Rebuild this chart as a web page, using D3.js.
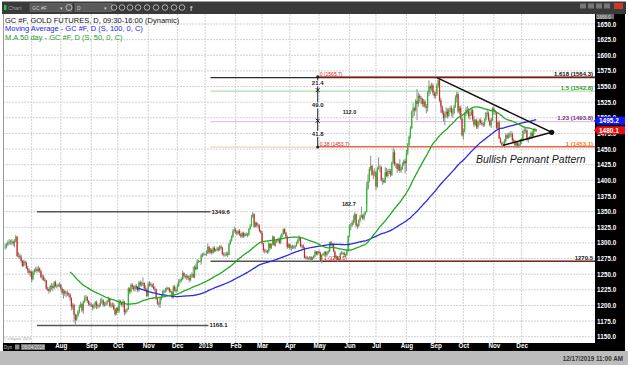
<!DOCTYPE html>
<html><head><meta charset="utf-8">
<script src="https://d3js.org/d3.v7.min.js"></script>
<style>
html,body{margin:0;padding:0;background:#fff;}
svg{display:block;}
text{font-family:"Liberation Sans",Arial,sans-serif;}
</style></head><body>
<svg id="chart" width="628" height="365"></svg>
<script>
// ---------------- DATA (daily GC #F bars, one row per week) ----------------
const startDate = "2018-06-04";
const opens = [
1293,1294,1297,1301,1302, 1302,1302,1299,1303,1310, 1279,1279,1278,1271,1263, 1270,1268,1260,1256,1252,
1254,1242,1253,1257,1258, 1255,1259,1255,1245,1246, 1241,1240,1227,1226,1223, 1231,1231,1228,1237,1231,
1231,1233,1233,1227,1220, 1223,1219,1220,1219,1217, 1212,1198,1201,1185,1177, 1184,1190,1198,1202,1192,
1206,1212,1213,1207,1202, 1201,1200,1197,1201,1205, 1199,1199,1201,1208,1208, 1201,1202,1203,1207,1211,
1199,1201,1201,1194,1186, 1196,1191,1207,1204,1201, 1206,1189,1192,1194,1227, 1222,1233,1230,1226,1231,
1229,1224,1237,1233,1234, 1236,1227,1225,1215,1235, 1234,1233,1230,1227,1226, 1210,1203,1202,1211,1216,
1223,1223,1225,1228,1227, 1223,1222,1213,1230,1224, 1223,1231,1238,1240,1242, 1252,1247,1246,1247,1244,
1241,1248,1250,1245,1262, 1258,1271,1271,1270,1280, 1281,1282,1282,1284,1294, 1285,1289,1284,1292,1287,
1289,1291,1289,1294,1292, 1282,1281,1281,1283,1281, 1298,1304,1310,1319,1321, 1318,1315,1319,1314,1310,
1316,1311,1314,1313,1313, 1322,1327,1342,1346,1326, 1332,1328,1327,1319,1316, 1299,1288,1287,1287,1286,
1299,1292,1298,1310,1296, 1302,1304,1306,1300,1310, 1314,1322,1316,1310,1293, 1298,1292,1294,1294,1293,
1295,1300,1305,1309,1295, 1296,1292,1276,1277,1275, 1275,1277,1273,1276,1279, 1286,1282,1286,1284,1271,
1281,1282,1285,1281,1285, 1287,1301,1296,1297,1286, 1276,1277,1273,1274,1283, 1284,1284,1281,1281,1288,
1311,1327,1328,1333,1337, 1346,1328,1327,1336,1342, 1344,1339,1346,1349,1387, 1399,1418,1423,1409,1412,
1413,1390,1419,1420,1421, 1400,1400,1397,1413,1407, 1415,1414,1409,1428,1445, 1426,1426,1418,1425,1416,
1419,1426,1431,1427,1444, 1457,1470,1484,1510,1515, 1512,1527,1522,1535,1532, 1530,1522,1526,1518,1516,
1540,1550,1547,1552,1540, 1535,1538,1552,1560,1528, 1518,1508,1500,1506,1510, 1503,1513,1515,1508,1508,
1518,1532,1538,1510,1516, 1499,1472,1479,1507,1513, 1513,1503,1505,1512,1497, 1489,1496,1485,1493,1496,
1492,1490,1489,1497,1508, 1507,1496,1488,1497,1515, 1511,1509,1484,1493,1467, 1460,1457,1456,1463,1472,
1468,1473,1474,1474,1464, 1463,1456,1461,1455,1458, 1466,1463,1479,1480,1480, 1465,1468,1469,1476,1471,
1481,1481];
const highs = [
1299,1300,1304,1306,1305, 1306,1304,1306,1313,1311, 1285,1283,1281,1273,1273, 1272,1270,1263,1259,1256,
1256,1255,1259,1261,1262, 1263,1261,1257,1250,1249, 1244,1241,1230,1229,1233, 1236,1234,1239,1240,1234,
1235,1237,1235,1229,1226, 1225,1223,1224,1221,1220, 1213,1204,1203,1187,1186, 1193,1201,1206,1204,1208,
1216,1217,1215,1209,1206, 1204,1202,1203,1207,1208, 1202,1204,1211,1213,1210, 1206,1206,1209,1214,1212,
1204,1205,1204,1196,1197, 1198,1210,1209,1206,1210, 1207,1194,1196,1229,1229, 1235,1236,1232,1233,1234,
1231,1239,1240,1238,1245, 1237,1232,1228,1237,1239, 1237,1235,1236,1231,1227, 1212,1206,1213,1217,1225,
1225,1228,1230,1230,1229, 1226,1223,1232,1233,1227, 1235,1242,1243,1245,1256, 1253,1250,1250,1249,1248,
1250,1253,1262,1264,1267, 1274,1273,1272,1283,1284, 1285,1283,1288,1299,1295, 1292,1291,1294,1295,1291,
1294,1294,1296,1297,1294, 1285,1285,1286,1286,1300, 1306,1312,1322,1326,1324, 1320,1321,1322,1316,1318,
1318,1316,1317,1316,1324, 1330,1345,1349.6,1347,1334, 1334,1331,1330,1321,1319, 1300,1291,1290,1289,1301,
1300,1299,1312,1311,1304, 1306,1308,1309,1313,1316, 1323,1324,1318,1312,1299, 1299,1296,1297,1297,1297,
1302,1307,1312,1310,1298, 1298,1294,1280,1279,1277, 1279,1279,1278,1281,1289, 1287,1287,1289,1286,1282,
1284,1287,1287,1287,1289, 1302,1303,1300,1299,1288, 1281,1279,1276,1285,1287, 1286,1286,1283,1290,1312,
1330,1332,1336,1344,1349, 1347,1331,1338,1345,1358, 1346,1349,1351,1397,1410, 1421,1439,1425,1416,1419,
1415,1422,1437,1425,1423, 1404,1404,1421,1420,1418, 1419,1418,1430,1452,1449, 1429,1428,1427,1434,1422,
1429,1433,1435,1449,1460, 1472,1487,1512,1524,1518, 1530,1546,1540,1538,1535, 1532,1530,1529,1522,1543,
1560,1553,1556,1555,1543, 1542,1555,1565.7,1562,1532, 1520,1512,1510,1517,1515, 1516,1519,1520,1515,1521,
1536,1542,1541,1519,1520, 1502,1483,1509,1517,1519, 1516,1509,1515,1515,1503, 1498,1499,1495,1499,1499,
1496,1493,1499,1509,1512, 1510,1499,1500,1517,1519, 1513,1510,1495,1496,1469, 1462,1462,1466,1475,1475,
1476,1477,1479,1477,1467, 1465,1463,1463,1459,1466, 1468,1481,1485,1484,1482, 1469,1471,1478,1480,1483,
1484,1482];
const lows = [
1289,1291,1295,1297,1297, 1297,1295,1293,1301,1277, 1276,1274,1268,1261,1262, 1264,1258,1252,1249,1246,
1237,1240,1249,1253,1252, 1253,1252,1243,1240,1239, 1237,1225,1223,1219,1221, 1225,1223,1226,1229,1227,
1229,1229,1224,1217,1211, 1215,1213,1215,1213,1207, 1192,1193,1173,1168.1,1175, 1181,1187,1196,1189,1187,
1204,1208,1204,1199,1198, 1197,1192,1194,1196,1194, 1195,1196,1198,1203,1198, 1198,1199,1200,1205,1197,
1196,1197,1192,1183,1185, 1188,1188,1201,1198,1197, 1184,1186,1189,1193,1218, 1220,1226,1223,1222,1225,
1221,1222,1230,1230,1231, 1225,1224,1213,1214,1230, 1230,1228,1225,1222,1209, 1201,1197,1196,1208,1214,
1219,1220,1222,1225,1220, 1220,1211,1211,1222,1220, 1222,1229,1235,1237,1240, 1243,1243,1241,1241,1237,
1239,1244,1244,1243,1256, 1257,1268,1269,1265,1277, 1279,1281,1279,1282,1282, 1283,1281,1283,1285,1285,
1287,1286,1287,1290,1280, 1278,1278,1279,1277,1280, 1297,1302,1308,1316,1314, 1312,1313,1311,1308,1308,
1308,1309,1311,1309,1311, 1321,1326,1340,1324,1325, 1325,1323,1317,1314,1297, 1285,1283,1284,1282,1284,
1289,1290,1296,1295,1294, 1300,1302,1298,1298,1308, 1313,1314,1307,1290,1292, 1289,1287,1290,1290,1290,
1294,1298,1302,1293,1291, 1289,1275,1273,1273,1273, 1273,1269,1272,1274,1277, 1280,1280,1282,1270,1267,
1279,1279,1279,1278,1282, 1285,1294,1292,1285,1274, 1271,1269,1271,1272,1281, 1281,1277,1277,1279,1286,
1309,1320,1326,1329,1332, 1325,1322,1325,1333,1340, 1337,1336,1344,1361,1385, 1397,1415,1407,1402,1406,
1384,1388,1417,1413,1398, 1393,1395,1396,1405,1404, 1410,1405,1407,1426,1423, 1420,1412,1415,1412,1412,
1417,1423,1411,1415,1440, 1455,1466,1482,1500,1503, 1510,1496,1518,1524,1522, 1518,1517,1515,1507,1510,
1535,1538,1543,1536,1531, 1531,1535,1548,1525,1508, 1505,1494,1488,1500,1499, 1501,1509,1502,1500,1505,
1516,1525,1507,1505,1496, 1470,1465,1476,1503,1506, 1499,1497,1503,1494,1485, 1487,1482,1482,1488,1489,
1487,1485,1486,1495,1502, 1494,1486,1484,1495,1505, 1505,1482,1481,1466,1459, 1452,1454,1452,1460,1466,
1466,1468,1469,1461,1459, 1452,1453,1452,1452,1455, 1458,1462,1474,1475,1463, 1460,1465,1466,1466,1468,
1477,1477];
const closes = [
1294,1297,1301,1302,1302, 1302,1299,1303,1309,1279, 1279,1278,1271,1263,1270, 1268,1260,1256,1252,1254,
1242,1253,1257,1258,1255, 1259,1255,1245,1246,1241, 1240,1227,1226,1223,1231, 1231,1228,1237,1231,1231,
1233,1233,1227,1220,1223, 1219,1220,1219,1217,1212, 1198,1201,1185,1177,1184, 1190,1198,1202,1192,1206,
1212,1213,1207,1202,1201, 1200,1197,1201,1205,1199, 1199,1201,1208,1208,1201, 1202,1203,1207,1211,1199,
1201,1201,1194,1186,1196, 1191,1207,1204,1201,1206, 1189,1192,1194,1227,1222, 1233,1230,1226,1231,1229,
1224,1237,1233,1234,1236, 1227,1225,1215,1235,1234, 1233,1230,1227,1226,1210, 1203,1202,1211,1216,1223,
1223,1225,1228,1227,1223, 1222,1213,1230,1224,1223, 1231,1238,1240,1242,1252, 1247,1246,1247,1244,1241,
1248,1250,1245,1262,1258, 1271,1271,1270,1280,1281, 1282,1282,1284,1294,1285, 1289,1284,1292,1287,1289,
1291,1289,1294,1292,1282, 1281,1281,1283,1281,1298, 1304,1310,1319,1321,1318, 1315,1319,1314,1310,1316,
1311,1314,1313,1313,1322, 1327,1342,1346,1326,1332, 1328,1327,1319,1316,1299, 1288,1287,1287,1286,1299,
1292,1298,1310,1296,1302, 1304,1306,1300,1310,1314, 1322,1316,1310,1293,1298, 1292,1294,1294,1293,1295,
1300,1305,1309,1295,1296, 1292,1276,1277,1275,1275, 1277,1273,1276,1279,1286, 1282,1286,1284,1271,1281,
1282,1285,1281,1285,1287, 1301,1296,1297,1286,1276, 1277,1273,1274,1283,1284, 1284,1281,1281,1288,1311,
1327,1328,1333,1337,1346, 1328,1327,1336,1342,1344, 1339,1346,1349,1387,1399, 1418,1423,1409,1412,1413,
1390,1419,1420,1421,1400, 1400,1397,1413,1407,1415, 1414,1409,1428,1445,1426, 1426,1418,1425,1416,1419,
1426,1431,1427,1444,1457, 1470,1484,1510,1515,1512, 1527,1522,1535,1532,1530, 1522,1526,1518,1516,1540,
1550,1547,1552,1540,1535, 1538,1552,1560,1528,1518, 1508,1500,1506,1510,1503, 1513,1515,1508,1508,1518,
1532,1538,1510,1516,1499, 1472,1479,1507,1513,1513, 1503,1505,1512,1497,1489, 1496,1485,1493,1496,1492,
1490,1489,1497,1508,1507, 1496,1488,1497,1515,1511, 1509,1484,1493,1467,1460, 1457,1456,1463,1472,1468,
1473,1474,1474,1464,1463, 1456,1461,1455,1458,1466, 1463,1479,1480,1480,1465, 1468,1469,1476,1471,1481,
1481,1480.1];

const priceTicks = [1150,1175,1200,1225,1250,1275,1300,1325,1350,1375,1400,1425,1450,1475,1500,1525,1550,1575,1600,1625,1650];
const maPeriods = {slow:100, fast:50};
const lastMa100 = 1495.2;
const legendLines = [
  {text:"GC #F, GOLD FUTURES, D, 09:30-16:00 (Dynamic)", color:"#111"},
  {text:"Moving Average - GC #F, D (S, 100, 0, C)", color:"#2424e6"},
  {text:"M.A 50 day - GC #F, D (S, 50, 0, C)", color:"#22a022"}
];
// annotations (bar index, price)
const supportLines = [
  {price:1349.6, from:24, to:155, label:"1349.6"},
  {price:1168.1, from:24, to:153.5, label:"1168.1"}
];
const fibExtLevels = [
  {price:1564.3, label:"1.618 (1564.3)", line:"#2a2a2a", text:"#111", w:1.4},
  {price:1542.8, label:"1.5 (1542.8)", line:"#b2dcb2", text:"#1e9a1e", w:1.2},
  {price:1493.8, label:"1.23 (1493.8)", line:"#dcc6e2", text:"#7a2c8a", w:1.2},
  {price:1453.1, label:"1 (1453.1)", line:"#f7d2b4", text:"#f07a22", w:1.2}
];
const fibRetLevels = [
  {price:1565.7, label:"0 (1565.7)"},
  {price:1453.7, label:"0.38 (1453.7)"}
];
const baseLevel = {price:1270.5, from:155, redFrom:240, label:"1270.5", redLabel:"1 (1270.5)"};
const measure = {at:236, levels:[1565.7,1544.3,1495.3,1453.5], labels:["21.4","49.0","41.8"]};
const rangeLabels = [{at:260, price:1509.7, text:"112.0"}, {at:259.5, price:1361.9, text:"182.7"}];
const pennant = {top:[326,1564.3], bottom:[376,1456], apex:[412.7,1476.8]};
const pennantLabel = {at:355.5, price:1428, text:"Bullish Pennant  Pattern"};
const timestamp = "12/17/2019 11:00 AM";

// ---------------- LAYOUT ----------------
const svg = d3.select("#chart");
const plot = {left:3, right:595, top:14, bottom:343};
const N = closes.length;
const dates = [];
{ let d = new Date(startDate + "T00:00:00Z");
  while (dates.length < N) { const wd = d.getUTCDay(); if (wd !== 0 && wd !== 6) dates.push(d); d = d3.utcDay.offset(d, 1); } }
const x = d3.scaleLinear().domain([-1.66, 445.4]).range([plot.left, plot.right]);
const y = d3.scaleLinear().domain([1150, 1650]).range([336.7, 24]);
const xEnd = x.domain()[1];

const monthTicks = [];
for (let i = 1; i < N; i++) if (dates[i].getUTCMonth() !== dates[i-1].getUTCMonth()) monthTicks.push(i);
const monthLabel = i => dates[i].getUTCMonth() === 0 ? d3.utcFormat("%Y")(dates[i]) : d3.utcFormat("%b")(dates[i]);
// the first month label sits under the start-date box, so only later ones are written
const labelTicks = monthTicks.filter(i => x(i) > 50);

svg.append("rect").attr("width",628).attr("height",365).attr("fill","#fff");

// grid
const grid = svg.append("g");
grid.selectAll("line.h").data(priceTicks).join("line")
  .attr("x1",plot.left).attr("x2",plot.right).attr("y1",d=>y(d)).attr("y2",d=>y(d))
  .attr("stroke","#d2d2d2").attr("stroke-width",1).attr("stroke-dasharray","2,1");
grid.selectAll("line.v").data(monthTicks).join("line")
  .attr("x1",d=>x(d)).attr("x2",d=>x(d)).attr("y1",plot.top).attr("y2",plot.bottom)
  .attr("stroke","#d2d2d2").attr("stroke-width",1).attr("stroke-dasharray","2,1");
svg.append("line").attr("x1",3.5).attr("x2",3.5).attr("y1",plot.top).attr("y2",plot.bottom).attr("stroke","#9a9a9a");

// fib extension lines
const ann = svg.append("g");
fibExtLevels.forEach(f => {
  ann.append("line").attr("x1",x(155)).attr("x2",x(xEnd)).attr("y1",y(f.price)).attr("y2",y(f.price))
    .attr("stroke",f.line).attr("stroke-width",f.w);
});
fibRetLevels.forEach(f => {
  ann.append("line").attr("x1",x(measure.at)).attr("x2",x(xEnd)).attr("y1",y(f.price)).attr("y2",y(f.price))
    .attr("stroke","#d83a2a").attr("stroke-width",1);
});
ann.append("line").attr("x1",x(baseLevel.from)).attr("x2",x(xEnd)).attr("y1",y(baseLevel.price)).attr("y2",y(baseLevel.price))
  .attr("stroke","#555").attr("stroke-width",1.5);
ann.append("line").attr("x1",x(baseLevel.redFrom)).attr("x2",x(xEnd)).attr("y1",y(baseLevel.price)).attr("y2",y(baseLevel.price))
  .attr("stroke","#8a2020").attr("stroke-width",1.3);
supportLines.forEach(s => {
  ann.append("line").attr("x1",x(s.from)).attr("x2",x(s.to)).attr("y1",y(s.price)).attr("y2",y(s.price))
    .attr("stroke","#555").attr("stroke-width",1.5);
});

// candles
const bars = closes.map((c,i)=>({i, o:opens[i], h:highs[i], l:lows[i], c}));
const cg = svg.append("g");
cg.selectAll("line").data(bars).join("line")
  .attr("x1",d=>x(d.i)).attr("x2",d=>x(d.i)).attr("y1",d=>y(d.h)).attr("y2",d=>y(d.l))
  .attr("stroke","#8e8e8e").attr("stroke-width",1);
cg.selectAll("rect").data(bars).join("rect")
  .attr("x",d=>x(d.i)-0.6).attr("width",1.2)
  .attr("y",d=>y(Math.max(d.o,d.c))).attr("height",d=>Math.max(0.8,Math.abs(y(d.o)-y(d.c))))
  .attr("fill",d=>d.c>=d.o?"#1fc01f":"#e02020");

// moving averages
function sma(n){ const out=[]; for(let i=n-1;i<N;i++) out.push({i, v:d3.mean(closes.slice(i-n+1,i+1))}); return out; }
const line = d3.line().x(d=>x(d.i)).y(d=>y(d.v)).curve(d3.curveMonotoneX);
svg.append("path").datum(sma(maPeriods.slow)).attr("d",line).attr("fill","none").attr("stroke","#2a2ae8").attr("stroke-width",1.3);
svg.append("path").datum(sma(maPeriods.fast)).attr("d",line).attr("fill","none").attr("stroke","#22a822").attr("stroke-width",1.3);

// labels for levels
fibExtLevels.forEach(f => {
  svg.append("text").attr("x",593).attr("y",y(f.price)-1.5).attr("text-anchor","end")
    .attr("font-size",6).attr("font-weight","bold").attr("fill",f.text).text(f.label);
});
fibRetLevels.forEach(f => {
  svg.append("text").attr("x",x(measure.at)+2).attr("y",y(f.price)-1).attr("font-size",5)
    .attr("fill","#d02020").text(f.label);
});
svg.append("text").attr("x",x(baseLevel.redFrom)+1).attr("y",y(baseLevel.price)-1.5).attr("font-size",5)
  .attr("fill","#d02020").text(baseLevel.redLabel);
svg.append("text").attr("x",593).attr("y",y(baseLevel.price)-1.5).attr("text-anchor","end")
  .attr("font-size",6).attr("font-weight","bold").attr("fill","#222").text(baseLevel.label);
supportLines.forEach(s => {
  svg.append("text").attr("x",x(s.to)+1).attr("y",y(s.price)+2).attr("font-size",6).attr("font-weight","bold")
    .attr("fill","#222").text(s.label);
});

// measure ruler
const mx = x(measure.at);
svg.append("line").attr("x1",mx).attr("x2",mx).attr("y1",y(measure.levels[0])).attr("y2",y(measure.levels[3]))
  .attr("stroke","#222").attr("stroke-width",1);
measure.levels.forEach((p,k) => {
  const yy = y(p);
  if (k===0 || k===3) svg.append("circle").attr("cx",mx).attr("cy",yy).attr("r",1.5).attr("fill","#222");
  else svg.append("path").attr("d",`M${mx-2},${yy-2}L${mx+2},${yy+2}M${mx-2},${yy+2}L${mx+2},${yy-2}`).attr("stroke","#222").attr("stroke-width",1);
});
measure.labels.forEach((t,k) => {
  const yy = (y(measure.levels[k]) + y(measure.levels[k+1]))/2 + 2;
  svg.append("rect").attr("x",mx-6).attr("y",yy-5).attr("width",12).attr("height",6).attr("fill","#fff");
  svg.append("text").attr("x",mx).attr("y",yy).attr("text-anchor","middle").attr("font-size",6)
    .attr("font-weight","bold").attr("fill","#222").text(t);
});
rangeLabels.forEach(r => {
  svg.append("text").attr("x",x(r.at)).attr("y",y(r.price)+2).attr("text-anchor","middle").attr("font-size",5.5)
    .attr("font-weight","bold").attr("fill","#222").text(r.text);
});

// pennant
const P = a => [x(a[0]), y(a[1])];
svg.append("path").attr("d",d3.line()([P(pennant.top),P(pennant.apex),P(pennant.bottom)]))
  .attr("fill","none").attr("stroke","#111").attr("stroke-width",1.5);
svg.append("circle").attr("cx",x(pennant.apex[0])).attr("cy",y(pennant.apex[1])).attr("r",2.6).attr("fill","#111");
svg.append("text").attr("x",x(pennantLabel.at)).attr("y",y(pennantLabel.price)).attr("font-size",10.5)
  .attr("font-style","italic").attr("fill","#1a1a1a").text(pennantLabel.text);

// legend
legendLines.forEach((l,k) => {
  svg.append("text").attr("x",5).attr("y",23+k*8.3).attr("font-size",7.5).attr("fill",l.color).text(l.text);
});

// right axis
svg.append("rect").attr("x",plot.right).attr("y",plot.top).attr("width",30).attr("height",337).attr("fill","#000");
const yAxis = d3.axisRight(y).tickValues(priceTicks).tickFormat(d3.format(".1f")).tickSize(0).tickPadding(2);
const ya = svg.append("g").attr("transform",`translate(${plot.right},0)`).call(yAxis);
ya.select(".domain").remove();
ya.selectAll("text").attr("fill","#fff").attr("font-size",6.3).attr("font-weight","bold")
  .attr("font-family","DejaVu Sans, sans-serif");
svg.append("rect").attr("x",596).attr("y",14).attr("width",18).attr("height",5).attr("fill","#6a6a6a");
svg.append("text").attr("x",597).attr("y",18.5).attr("font-size",4.5).attr("fill","#ddd").text("1666.0");

function priceBox(p, label, color){
  const yy = y(p);
  svg.append("path").attr("d",`M${plot.right-1},${yy}L${plot.right+2},${yy-4}L625,${yy-4}L625,${yy+4}L${plot.right+2},${yy+4}Z`).attr("fill",color);
  svg.append("text").attr("x",599).attr("y",yy+2.4).attr("font-size",6.5).attr("font-weight","bold")
    .attr("font-family","DejaVu Sans, sans-serif").attr("fill","#fff").text(label);
}
priceBox(lastMa100, d3.format(".1f")(lastMa100), "#1414ff");
priceBox(closes[N-1], d3.format(".1f")(closes[N-1]), "#e01010");

// bottom axis
svg.append("rect").attr("x",3).attr("y",plot.bottom).attr("width",622).attr("height",8).attr("fill","#000");
const xAxis = d3.axisBottom(x).tickValues(labelTicks).tickFormat(monthLabel).tickSize(0).tickPadding(0);
const xa = svg.append("g").attr("transform",`translate(0,${plot.bottom+1})`).call(xAxis);
xa.select(".domain").remove();
xa.selectAll("text").attr("fill","#fff").attr("font-size",6.3).attr("font-weight","bold")
  .attr("font-family","DejaVu Sans, sans-serif");
// start-date box
svg.append("text").attr("x",4).attr("y",plot.bottom+6).attr("font-size",4.5).attr("fill","#ccc").text("Dyn");
svg.append("rect").attr("x",15).attr("y",plot.bottom+1.5).attr("width",4.5).attr("height",5).attr("fill","#888");
svg.append("rect").attr("x",21).attr("y",plot.bottom+1).attr("width",24).attr("height",6).attr("fill","#707070");
svg.append("text").attr("x",22).attr("y",plot.bottom+5.8).attr("font-size",4.5).attr("fill","#eee").text(d3.utcFormat("%m/%d/%Y")(dates[0]));
svg.append("text").attr("x",4).attr("y",340).attr("font-size",3.8).attr("fill","#999").text("© eSignal, 2019");

// status bar
svg.append("rect").attr("x",0).attr("y",351).attr("width",628).attr("height",14).attr("fill","#bcbcbc");
svg.append("text").attr("x",623).attr("y",360.5).attr("text-anchor","end").attr("font-size",6.3).attr("font-weight","bold")
  .attr("font-family","DejaVu Sans, sans-serif").attr("fill","#333").text(timestamp);

// toolbar
svg.append("rect").attr("x",2).attr("y",1.5).attr("width",624).attr("height",12.5).attr("fill","#3a3a3a");
svg.append("rect").attr("x",4).attr("y",5).attr("width",2.5).attr("height",5).attr("fill","#2fbf3f");
svg.append("text").attr("x",8).attr("y",10).attr("font-size",5.5).attr("fill","#9a9a9a").text("Chart");
svg.append("rect").attr("x",30).attr("y",3.5).attr("width",42).attr("height",8).attr("fill","#5a5a5a").attr("stroke","#777").attr("stroke-width",0.5);
svg.append("text").attr("x",32).attr("y",9.5).attr("font-size",5).attr("fill","#ccc").text("GC #F");
svg.append("text").attr("x",60).attr("y",9.8).attr("font-size",5).attr("fill","#ccc").text("▾");
svg.append("circle").attr("cx",69).attr("cy",7.5).attr("r",3).attr("fill","none").attr("stroke","#ccc").attr("stroke-width",0.8);
svg.append("rect").attr("x",75).attr("y",3.5).attr("width",37).attr("height",8).attr("fill","#5a5a5a").attr("stroke","#777").attr("stroke-width",0.5);
svg.append("text").attr("x",77).attr("y",9.5).attr("font-size",5).attr("fill","#ccc").text("D");
svg.append("text").attr("x",104).attr("y",9.8).attr("font-size",5).attr("fill","#ccc").text("▾");
[114,122,130,138,147,156,165,174,182].forEach(cx => {
  svg.append("circle").attr("cx",cx).attr("cy",7.5).attr("r",2.8).attr("fill","none").attr("stroke","#ccc").attr("stroke-width",0.8);
});
svg.append("text").attr("x",190).attr("y",10.5).attr("font-size",7).attr("font-weight","bold").attr("fill","#ccc").text("f");
[580,588,596,604].forEach(bx => svg.append("rect").attr("x",bx).attr("y",3.5).attr("width",6).attr("height",5).attr("fill","#777"));
svg.append("rect").attr("x",614).attr("y",3).attr("width",9).attr("height",6).attr("fill","#c83a2a");
</script></body></html>
